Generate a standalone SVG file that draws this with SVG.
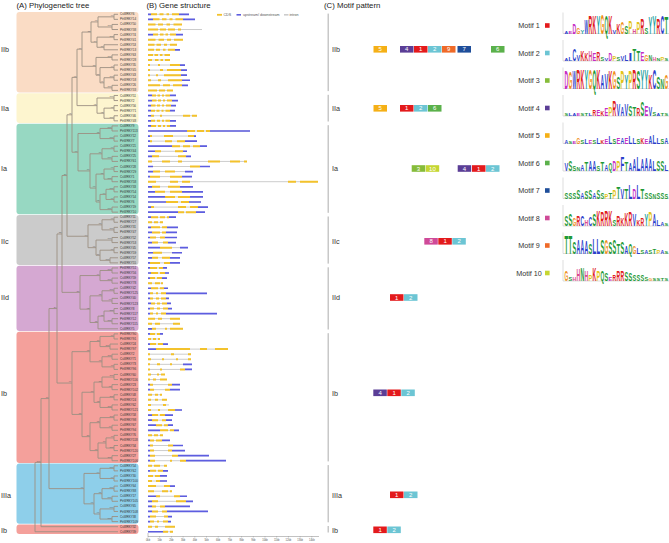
<svg xmlns="http://www.w3.org/2000/svg" width="669" height="543" viewBox="0 0 669 543">
<style>
text{font-family:"Liberation Sans",Arial,sans-serif}
.title{font-size:7.8px;fill:#222}
.cl{font-size:7.2px;fill:#333}
.gn{font-size:3px;fill:#333}
.bs{font-size:2.4px;fill:#666;text-anchor:end}
.ax{font-size:2.6px;fill:#555;text-anchor:middle}
.lgd{font-size:3.6px;fill:#555}
.mt{font-size:6px;fill:#fff;text-anchor:middle}
.ml{font-size:7.2px;fill:#333;text-anchor:middle}
.L text{font-weight:bold}
.b{fill:#2b3fcc}.g{fill:#1f9a36}.m{fill:#c52dc5}.r{fill:#e0201b}.o{fill:#f0901a}.y{fill:#e3c418}.h{fill:#d94a8c}.c{fill:#22a0a0}
.lax{fill:none;stroke:#aaa;stroke-width:0.4}
</style>
<defs/>
<g id="titles">
<text class="title" x="16.5" y="7.5">(A) Phylogenetic tree</text>
<text class="title" x="146.5" y="7.5">(B) Gene structure</text>
<text class="title" x="324" y="7.5">(C) Motif pattern</text>
</g>
<g id="clade-boxes">
<rect x="16.5" y="12.1" width="122" height="80.5" rx="3" fill="#fadcc5"/>
<rect x="16.5" y="93.3" width="122" height="29.7" rx="3" fill="#fdf5cf"/>
<rect x="16.5" y="123.7" width="122" height="90.6" rx="3" fill="#97d8c2"/>
<rect x="16.5" y="215" width="122" height="50.1" rx="3" fill="#cbcbcb"/>
<rect x="16.5" y="265.8" width="122" height="65.2" rx="3" fill="#d5a8d2"/>
<rect x="16.5" y="331.7" width="122" height="131.2" rx="3" fill="#f4a09b"/>
<rect x="16.5" y="463.6" width="122" height="60.2" rx="3" fill="#8ecfea"/>
<rect x="16.5" y="524.5" width="122" height="9.5" rx="3" fill="#f4a09b"/>
</g>
<g id="clade-labels">
<text class="cl" x="1" y="51.5">IIb</text>
<text class="cl" x="1" y="110.5">IIa</text>
<text class="cl" x="1" y="170.5">Ia</text>
<text class="cl" x="1" y="243.5">IIc</text>
<text class="cl" x="1" y="299.5">IId</text>
<text class="cl" x="1" y="395.5">Ib</text>
<text class="cl" x="1" y="497.5">IIIa</text>
<text class="cl" x="1" y="532.5">Ib</text>
</g>
<g id="connectors" transform="translate(0,14.3) scale(1,5.073)">
<path fill="none" stroke="#9c9082" stroke-width="0.9" vector-effect="non-scaling-stroke" d="M118 0H114V1H118M118 2H112V3H118M114 0.5H98V2.5H112M118 4H114V5H118M118 6H104V7H118M114 4.5H97V6.5H104M98 1.5H91V5.5H97M118 8H112V9H118M118 10H114V11H118M118 12H114V13H118M118 14H112V15H118M114 12.5H104V14.5H112M114 10.5H100V13.5H104M112 8.5H96V12H100M91 3.5H82V10.25H96
M118 16H114V17H118M118 18H114V19H118M118 20H114V21H118M114 18.5H104V20.5H114M114 16.5H97V19.5H104M82 6.875H77V18H97
M118 22H112V23H118M118 24H114V25H118M112 22.5H100V24.5H114M118 26H114V27H118M118 28H112V29H118M118 30H114V31H118M118 32H112V33H118M118 34H114V35H118M118 36H114V37H118M118 38H112V39H118M114 26.5H102V28.5H112M114 30.5H104V32.5H112M114 34.5H106V36.5H114M106 35.5H100V38.5H112M104 31.5H96V37H100M102 27.5H90V34.25H96M100 23.5H78V30.875H90M77 12.4375H72V27.1875H78
M118 40H114V41H118M118 42H114V43H118M114 40.5H102V42.5H114M118 44H112V45H118M118 46H114V47H118M118 48H110V49H118M114 46.5H100V48.5H110M112 44.5H96V47.5H100M102 41.5H88V46H96M72 19.8125H67V43.75H88
M118 50H112V51H118M118 52H112V53H118M112 50.5H100V52.5H112M118 54H114V55H118M118 56H112V57H118M114 54.5H102V56.5H112M118 58H114V59H118M118 60H112V61H118M114 58.5H104V60.5H112M104 59.5H98V62H118M102 55.5H90V60.75H98M100 51.5H80V58.125H90M67 31.78H62V54.8125H80
M118 63H114V64H118M118 65H110V66H118M114 63.5H100V65.5H110M118 67H112V68H118M118 69H114V70H118M112 67.5H102V69.5H114M100 64.5H90V68.5H102M118 71H114V72H118M118 73H112V74H118M114 71.5H102V73.5H112M118 75H114V76H118M118 77H112V78H118M114 75.5H100V77.5H112M102 72.5H94V76.5H100M118 79H114V80H118M118 81H112V82H118M114 79.5H100V81.5H112M118 83H114V84H118M118 85H114V86H118M114 83.5H106V85.5H114M118 87H112V88H118M106 84.5H98V87.5H112M100 80.5H90V86H98M94 74.5H82V83.25H90M90 66.5H72V78.875H82M62 43.3H57V72.6875H72
M118 89H114V90H118M118 91H114V92H118M114 89.5H100V91.5H114M118 93H114V94H118M118 95H112V96H118M114 93.5H102V95.5H112M118 97H114V98H118M118 99H112V100H118M114 97.5H100V99.5H112M102 94.5H94V98.5H100M100 90.5H84V96.5H94M57 58H49V93.5H84M49 75.75H41V101H118M41 88.375H35V102H118"/>
</g>
<g id="bootstrap">
<text class="bs" x="113.4" y="16.2">99</text><text class="bs" x="111.4" y="26.4">100</text><text class="bs" x="97.4" y="21.3">98</text><text class="bs" x="113.4" y="36.5">100</text><text class="bs" x="103.4" y="46.7">87</text><text class="bs" x="96.4" y="41.6">64</text><text class="bs" x="90.4" y="31.5">53</text><text class="bs" x="111.4" y="56.8">100</text><text class="bs" x="113.4" y="67">99</text><text class="bs" x="113.4" y="77.1">100</text><text class="bs" x="111.4" y="87.3">100</text><text class="bs" x="103.4" y="82.2">91</text><text class="bs" x="99.4" y="74.6">76</text><text class="bs" x="95.4" y="65.7">88</text><text class="bs" x="81.4" y="48.6">99</text>
<text class="bs" x="113.4" y="97.4">100</text><text class="bs" x="113.4" y="107.5">98</text><text class="bs" x="113.4" y="117.7">100</text><text class="bs" x="103.4" y="112.6">92</text><text class="bs" x="96.4" y="105">95</text><text class="bs" x="76.4" y="76.8">97</text>
<text class="bs" x="111.4" y="127.8">100</text><text class="bs" x="113.4" y="138">100</text><text class="bs" x="99.4" y="132.9">73</text><text class="bs" x="113.4" y="148.1">99</text><text class="bs" x="111.4" y="158.3">100</text><text class="bs" x="113.4" y="168.4">97</text><text class="bs" x="111.4" y="178.6">100</text><text class="bs" x="113.4" y="188.7">100</text><text class="bs" x="113.4" y="198.9">99</text><text class="bs" x="111.4" y="209">100</text><text class="bs" x="101.4" y="153.2">86</text><text class="bs" x="103.4" y="173.5">61</text><text class="bs" x="105.4" y="193.8">94</text><text class="bs" x="99.4" y="201.4">82</text><text class="bs" x="95.4" y="187.4">98</text><text class="bs" x="89.4" y="170.3">70</text><text class="bs" x="77.4" y="151.6">99</text><text class="bs" x="71.4" y="114.2">45</text>
<text class="bs" x="113.4" y="219.2">97</text><text class="bs" x="113.4" y="229.3">100</text><text class="bs" x="101.4" y="224.2">88</text><text class="bs" x="111.4" y="239.4">100</text><text class="bs" x="113.4" y="249.6">99</text><text class="bs" x="109.4" y="259.7">100</text><text class="bs" x="99.4" y="254.7">79</text><text class="bs" x="95.4" y="247.1">96</text><text class="bs" x="87.4" y="235.6">94</text><text class="bs" x="66.4" y="174.9">38</text>
<text class="bs" x="111.4" y="269.9">100</text><text class="bs" x="111.4" y="280">100</text><text class="bs" x="99.4" y="275">99</text><text class="bs" x="113.4" y="290.2">100</text><text class="bs" x="111.4" y="300.3">99</text><text class="bs" x="101.4" y="295.3">83</text><text class="bs" x="113.4" y="310.5">100</text><text class="bs" x="111.4" y="320.6">100</text><text class="bs" x="103.4" y="315.6">97</text><text class="bs" x="97.4" y="321.9">75</text><text class="bs" x="89.4" y="308.6">92</text><text class="bs" x="79.4" y="291.8">56</text><text class="bs" x="61.4" y="233.3">32</text>
<text class="bs" x="113.4" y="335.8">99</text><text class="bs" x="109.4" y="346">100</text><text class="bs" x="99.4" y="340.9">71</text><text class="bs" x="111.4" y="356.1">100</text><text class="bs" x="113.4" y="366.3">98</text><text class="bs" x="101.4" y="361.2">90</text><text class="bs" x="89.4" y="351.1">62</text><text class="bs" x="113.4" y="376.4">100</text><text class="bs" x="111.4" y="386.6">97</text><text class="bs" x="101.4" y="381.5">88</text><text class="bs" x="113.4" y="396.7">100</text><text class="bs" x="111.4" y="406.9">100</text><text class="bs" x="99.4" y="401.8">93</text><text class="bs" x="93.4" y="391.6">67</text><text class="bs" x="113.4" y="417">100</text><text class="bs" x="111.4" y="427.2">99</text><text class="bs" x="99.4" y="422.1">85</text><text class="bs" x="113.4" y="437.3">96</text><text class="bs" x="113.4" y="447.5">100</text><text class="bs" x="105.4" y="442.4">78</text><text class="bs" x="111.4" y="457.6">100</text><text class="bs" x="97.4" y="450">91</text><text class="bs" x="89.4" y="436">57</text><text class="bs" x="81.4" y="413.8">87</text><text class="bs" x="71.4" y="382.4">99</text><text class="bs" x="56.4" y="307.9">24</text>
<text class="bs" x="113.4" y="467.7">100</text><text class="bs" x="113.4" y="477.9">99</text><text class="bs" x="99.4" y="472.8">94</text><text class="bs" x="113.4" y="488">100</text><text class="bs" x="111.4" y="498.2">100</text><text class="bs" x="101.4" y="493.1">81</text><text class="bs" x="113.4" y="508.3">100</text><text class="bs" x="111.4" y="518.5">100</text><text class="bs" x="99.4" y="513.4">96</text><text class="bs" x="93.4" y="503.2">90</text><text class="bs" x="83.4" y="488">99</text><text class="bs" x="48.4" y="398">71</text><text class="bs" x="40.4" y="462">100</text>
</g>
<g id="leaves">
<g id="CsWRKY6"><text class="gn" x="120" y="15.3">CsWRKY6</text></g>
<g id="PtrWRKY14"><text class="gn" x="120" y="20.4">PtrWRKY14</text></g>
<g id="CsWRKY50"><text class="gn" x="120" y="25.4">CsWRKY50</text></g>
<g id="PtrWRKY38"><text class="gn" x="120" y="30.5">PtrWRKY38</text></g>
<g id="CsWRKY74"><text class="gn" x="120" y="35.6">CsWRKY74</text></g>
<g id="PtrWRKY41"><text class="gn" x="120" y="40.7">PtrWRKY41</text></g>
<g id="CsWRKY53"><text class="gn" x="120" y="45.7">CsWRKY53</text></g>
<g id="PtrWRKY13"><text class="gn" x="120" y="50.8">PtrWRKY13</text></g>
<g id="CsWRKY63"><text class="gn" x="120" y="55.9">CsWRKY63</text></g>
<g id="PtrWRKY28"><text class="gn" x="120" y="61">PtrWRKY28</text></g>
<g id="CsWRKY35"><text class="gn" x="120" y="66">CsWRKY35</text></g>
<g id="PtrWRKY45"><text class="gn" x="120" y="71.1">PtrWRKY45</text></g>
<g id="CsWRKY43"><text class="gn" x="120" y="76.2">CsWRKY43</text></g>
<g id="PtrWRKY18"><text class="gn" x="120" y="81.2">PtrWRKY18</text></g>
<g id="CsWRKY26"><text class="gn" x="120" y="86.3">CsWRKY26</text></g>
<g id="PtrWRKY33"><text class="gn" x="120" y="91.4">PtrWRKY33</text></g>
<g id="CsWRKY51"><text class="gn" x="120" y="96.5">CsWRKY51</text></g>
<g id="PtrWRKY2"><text class="gn" x="120" y="101.5">PtrWRKY2</text></g>
<g id="CsWRKY56"><text class="gn" x="120" y="106.6">CsWRKY56</text></g>
<g id="PtrWRKY71"><text class="gn" x="120" y="111.7">PtrWRKY71</text></g>
<g id="CsWRKY46"><text class="gn" x="120" y="116.8">CsWRKY46</text></g>
<g id="PtrWRKY48"><text class="gn" x="120" y="121.8">PtrWRKY48</text></g>
<g id="CsWRKY9"><text class="gn" x="120" y="126.9">CsWRKY9</text></g>
<g id="PtrWRKY113"><text class="gn" x="120" y="132">PtrWRKY113</text></g>
<g id="CsWRKY12"><text class="gn" x="120" y="137.1">CsWRKY12</text></g>
<g id="PtrWRKY7"><text class="gn" x="120" y="142.1">PtrWRKY7</text></g>
<g id="CsWRKY21"><text class="gn" x="120" y="147.2">CsWRKY21</text></g>
<g id="PtrWRKY44"><text class="gn" x="120" y="152.3">PtrWRKY44</text></g>
<g id="CsWRKY25"><text class="gn" x="120" y="157.3">CsWRKY25</text></g>
<g id="PtrWRKY61"><text class="gn" x="120" y="162.4">PtrWRKY61</text></g>
<g id="CsWRKY28"><text class="gn" x="120" y="167.5">CsWRKY28</text></g>
<g id="PtrWRKY29"><text class="gn" x="120" y="172.6">PtrWRKY29</text></g>
<g id="CsWRKY1"><text class="gn" x="120" y="177.6">CsWRKY1</text></g>
<g id="PtrWRKY58"><text class="gn" x="120" y="182.7">PtrWRKY58</text></g>
<g id="CsWRKY33"><text class="gn" x="120" y="187.8">CsWRKY33</text></g>
<g id="PtrWRKY54"><text class="gn" x="120" y="192.9">PtrWRKY54</text></g>
<g id="CsWRKY14"><text class="gn" x="120" y="197.9">CsWRKY14</text></g>
<g id="PtrWRKY6"><text class="gn" x="120" y="203">PtrWRKY6</text></g>
<g id="CsWRKY19"><text class="gn" x="120" y="208.1">CsWRKY19</text></g>
<g id="PtrWRKY10"><text class="gn" x="120" y="213.1">PtrWRKY10</text></g>
<g id="CsWRKY11"><text class="gn" x="120" y="218.2">CsWRKY11</text></g>
<g id="PtrWRKY27"><text class="gn" x="120" y="223.3">PtrWRKY27</text></g>
<g id="CsWRKY31"><text class="gn" x="120" y="228.4">CsWRKY31</text></g>
<g id="PtrWRKY47"><text class="gn" x="120" y="233.4">PtrWRKY47</text></g>
<g id="CsWRKY52"><text class="gn" x="120" y="238.5">CsWRKY52</text></g>
<g id="PtrWRKY53"><text class="gn" x="120" y="243.6">PtrWRKY53</text></g>
<g id="CsWRKY45"><text class="gn" x="120" y="248.7">CsWRKY45</text></g>
<g id="PtrWRKY59"><text class="gn" x="120" y="253.7">PtrWRKY59</text></g>
<g id="CsWRKY57"><text class="gn" x="120" y="258.8">CsWRKY57</text></g>
<g id="PtrWRKY55"><text class="gn" x="120" y="263.9">PtrWRKY55</text></g>
<g id="PtrWRKY51"><text class="gn" x="120" y="269">PtrWRKY51</text></g>
<g id="PtrWRKY56"><text class="gn" x="120" y="274">PtrWRKY56</text></g>
<g id="CsWRKY59"><text class="gn" x="120" y="279.1">CsWRKY59</text></g>
<g id="PtrWRKY78"><text class="gn" x="120" y="284.2">PtrWRKY78</text></g>
<g id="CsWRKY42"><text class="gn" x="120" y="289.2">CsWRKY42</text></g>
<g id="PtrWRKY125"><text class="gn" x="120" y="294.3">PtrWRKY125</text></g>
<g id="CsWRKY40"><text class="gn" x="120" y="299.4">CsWRKY40</text></g>
<g id="PtrWRKY123"><text class="gn" x="120" y="304.5">PtrWRKY123</text></g>
<g id="CsWRKY8"><text class="gn" x="120" y="309.5">CsWRKY8</text></g>
<g id="PtrWRKY117"><text class="gn" x="120" y="314.6">PtrWRKY117</text></g>
<g id="PtrWRKY12"><text class="gn" x="120" y="319.7">PtrWRKY12</text></g>
<g id="PtrWRKY115"><text class="gn" x="120" y="324.8">PtrWRKY115</text></g>
<g id="CsWRKY5"><text class="gn" x="120" y="329.8">CsWRKY5</text></g>
<g id="PtrWRKY90"><text class="gn" x="120" y="334.9">PtrWRKY90</text></g>
<g id="PtrWRKY91"><text class="gn" x="120" y="340">PtrWRKY91</text></g>
<g id="CsWRKY24"><text class="gn" x="120" y="345">CsWRKY24</text></g>
<g id="PtrWRKY97"><text class="gn" x="120" y="350.1">PtrWRKY97</text></g>
<g id="CsWRKY2"><text class="gn" x="120" y="355.2">CsWRKY2</text></g>
<g id="CsWRKY71"><text class="gn" x="120" y="360.3">CsWRKY71</text></g>
<g id="CsWRKY73"><text class="gn" x="120" y="365.3">CsWRKY73</text></g>
<g id="PtrWRKY96"><text class="gn" x="120" y="370.4">PtrWRKY96</text></g>
<g id="CsWRKY60"><text class="gn" x="120" y="375.5">CsWRKY60</text></g>
<g id="PtrWRKY116"><text class="gn" x="120" y="380.6">PtrWRKY116</text></g>
<g id="CsWRKY23"><text class="gn" x="120" y="385.6">CsWRKY23</text></g>
<g id="PtrWRKY102"><text class="gn" x="120" y="390.7">PtrWRKY102</text></g>
<g id="CsWRKY48"><text class="gn" x="120" y="395.8">CsWRKY48</text></g>
<g id="PtrWRKY24"><text class="gn" x="120" y="400.9">PtrWRKY24</text></g>
<g id="CsWRKY62"><text class="gn" x="120" y="405.9">CsWRKY62</text></g>
<g id="PtrWRKY121"><text class="gn" x="120" y="411">PtrWRKY121</text></g>
<g id="CsWRKY58"><text class="gn" x="120" y="416.1">CsWRKY58</text></g>
<g id="PtrWRKY98"><text class="gn" x="120" y="421.1">PtrWRKY98</text></g>
<g id="CsWRKY67"><text class="gn" x="120" y="426.2">CsWRKY67</text></g>
<g id="PtrWRKY94"><text class="gn" x="120" y="431.3">PtrWRKY94</text></g>
<g id="CsWRKY76"><text class="gn" x="120" y="436.4">CsWRKY76</text></g>
<g id="PtrWRKY118"><text class="gn" x="120" y="441.4">PtrWRKY118</text></g>
<g id="CsWRKY34"><text class="gn" x="120" y="446.5">CsWRKY34</text></g>
<g id="PtrWRKY120"><text class="gn" x="120" y="451.6">PtrWRKY120</text></g>
<g id="CsWRKY27"><text class="gn" x="120" y="456.7">CsWRKY27</text></g>
<g id="PtrWRKY106"><text class="gn" x="120" y="461.7">PtrWRKY106</text></g>
<g id="CsWRKY54"><text class="gn" x="120" y="466.8">CsWRKY54</text></g>
<g id="PtrWRKY62"><text class="gn" x="120" y="471.9">PtrWRKY62</text></g>
<g id="CsWRKY30"><text class="gn" x="120" y="477">CsWRKY30</text></g>
<g id="PtrWRKY100"><text class="gn" x="120" y="482">PtrWRKY100</text></g>
<g id="CsWRKY64"><text class="gn" x="120" y="487.1">CsWRKY64</text></g>
<g id="PtrWRKY88"><text class="gn" x="120" y="492.2">PtrWRKY88</text></g>
<g id="CsWRKY17"><text class="gn" x="120" y="497.2">CsWRKY17</text></g>
<g id="PtrWRKY105"><text class="gn" x="120" y="502.3">PtrWRKY105</text></g>
<g id="CsWRKY65"><text class="gn" x="120" y="507.4">CsWRKY65</text></g>
<g id="PtrWRKY108"><text class="gn" x="120" y="512.5">PtrWRKY108</text></g>
<g id="CsWRKY38"><text class="gn" x="120" y="517.5">CsWRKY38</text></g>
<g id="PtrWRKY109"><text class="gn" x="120" y="522.6">PtrWRKY109</text></g>
<g id="CsWRKY32"><text class="gn" x="120" y="527.7">CsWRKY32</text></g>
<g id="CsWRKY39"><text class="gn" x="120" y="532.8">CsWRKY39</text></g>
</g>
<g id="gene-structure">
<g transform="translate(0,14.3) scale(1,5.073)" fill="none">
<path stroke="#cccccc" stroke-width="1" vector-effect="non-scaling-stroke" d="M148 0H189M148 1H195M148 2H182M148 3H202M148 4H183M148 5H183M148 6H177M148 7H180M148 8H170M148 9H170M148 10H185M148 11H187M148 12H187M148 13H190M148 14H188M148 15H173M148 16H176M148 17H178M148 18H176M148 19H175M148 20H197M148 21H176M148 22H176M148 23H250M148 24H196M148 25H197M148 26H207M148 27H187M148 28H191M148 29H247M148 30H210M148 31H193M148 32H192M148 33H318M148 34H193M148 35H203M148 36H203M148 37H201M148 38H208M148 39H205M148 40H176M148 41H163M148 42H178M148 43H177M148 44H177M148 45H176M148 46H188M148 47H182M148 48H180M148 49H180M148 50H167M148 51H169M148 52H167M148 53H163M148 54H168M148 55H207M148 56H169M148 57H171M148 58H172M148 59H217M148 60H180M148 61H180M148 62H183M148 63H163M148 64H160M148 65H168M148 66H228M148 67H191M148 68H191M148 69H192M148 70H192M148 71H165M148 72H167M148 73H180M148 74H180M148 75H162M148 76H167M148 77H169M148 78H182M148 79H173M148 80H172M148 81H173M148 82H179M148 83H163M148 84H170M148 85H183M148 86H185M148 87H209M148 88H226M148 89H167M148 90H168M148 91H167M148 92H167M148 93H175M148 94H172M148 95H187M148 96H193M148 97H190M148 98H208M148 99H172M148 100H171M148 101H175M148 102H173"/>
<path stroke="#5d5de0" stroke-width="1.7" vector-effect="non-scaling-stroke" d="M148 0H151M179 0H189M148 1H153M183 1H195M148 4H153M176 4H183M175 7H180M180 10H185M181 11H187M181 12H187M182 13H190M182 14H188M148 16H152M170 16H176M148 17H152M172 17H178M148 18H151M171 18H176M148 19H151M170 19H175M148 20H151M148 21H151M170 21H176M148 22H151M170 22H176M148 23H187M210 23H250M148 24H150M194 24H196M148 25H150M185 25H197M148 26H172M200 26H207M148 27H155M183 27H187M148 28H152M186 28H191M148 30H153M200 30H210M148 31H153M185 31H193M148 32H150M182 32H192M148 34H152M180 34H193M148 35H155M182 35H203M148 36H165M190 36H203M148 37H166M189 37H201M148 38H151M198 38H208M148 39H178M196 39H205M148 40H151M169 40H176M148 42H151M167 42H178M148 43H152M166 43H177M148 44H150M165 44H177M148 45H152M168 45H176M148 46H160M180 46H188M148 47H153M172 47H182M148 48H152M170 48H180M148 49H150M170 49H180M148 50H150M163 50H167M148 51H151M165 51H169M148 52H150M162 52H167M148 54H151M164 54H168M148 55H150M166 55H207M148 56H150M166 56H169M148 57H151M167 57H171M148 58H150M168 58H172M148 59H150M166 59H217M148 62H152M148 63H150M160 63H163M148 65H150M163 65H168M148 66H156M183 69H192M185 70H192M148 73H150M172 73H180M148 74H150M170 74H180M175 78H182M148 79H152M165 79H173M148 80H152M166 80H172M148 81H156M168 81H173M148 82H160M174 82H179M148 84H150M162 84H170M148 85H150M173 85H183M148 86H150M172 86H185M148 87H150M178 87H209M148 88H150M186 88H226M148 90H150M163 90H168M160 91H167M160 92H167M170 93H175M148 95H156M180 95H187M148 96H152M186 96H193M148 97H152M165 97H190M148 98H152M167 98H208M148 99H150M168 99H172M148 100H150M168 100H171M148 102H163"/>
<path stroke="#f3c22c" stroke-width="2" vector-effect="non-scaling-stroke" d="M151 0H157M159.5 0H163.5M166.5 0H169M172 0H179M153 1H159.5M162 1H166.5M169.5 1H172.5M175.5 1H183M148 2H155.5M158 2H163M166.5 2H170M173.5 2H182M148 3H158M160 3H166M168 3H175M178 3H181M153 4H158M160 4H163.5M165.5 4H168M170 4H176M148 5H155.5M158.5 5H164M167 5H171M174 5H183M148 6H154.5M156.5 6H161M164 6H167M170 6H177M148 7H154M156 7H160M163 7H165.5M168 7H175M148 8H153M154.5 8H158M160 8H162.5M164.5 8H170M148 9H152M155 9H158.5M160.5 9H163M165 9H170M148 10H150M158 10H160M170 10H180M148 11H150M160 11H163M167 11H181M148 12H150M156 12H158M164 12H181M148 13H151M158 13H161M168 13H182M148 14H160M163 14H170M173 14H182M148 15H157M159 15H165M167 15H173M152 16H156M157.5 16H160M162 16H164M165.5 16H170M152 17H156.5M158 17H161M163 17H165M167 17H172M151 18H155.5M157 18H160M162 18H164M166 18H171M151 19H155M156.5 19H159.5M161.5 19H163.5M165.5 19H170M151 20H154M160 20H162M183 20H190M192 20H197M151 21H155M157 21H160M162 21H164M165.5 21H170M151 22H156M158 22H161M163 22H165M167 22H170M187 23H195M197 23H204M206 23H210M150 24H152M164 24H173M188 24H194M150 25H152M165 25H172M177 25H185M172 26H180M183 26H190M193 26H200M155 27H161M175 27H183M152 28H159M178 28H186M148 29H152M162 29H170M178 29H182M208 29H220M230 29H240M244 29H247M190 30H200M153 31H160M165 31H175M150 32H160M170 32H182M148 33H156M170 33H178M182 33H190M288 33H296M300 33H318M152 34H160M168 34H180M155 35H165M170 35H182M165 36H175M178 36H190M166 37H178M181 37H189M151 38H154M178 38H186M190 38H198M178 39H184M186 39H196M151 40H158M160 40H165M167 40H169M148 41H152M154 41H158M160 41H163M151 42H160M162 42H167M152 43H160M162 43H166M150 44H156M160 44H165M152 45H158M163 45H168M160 46H172M153 47H162M152 48H158M162 48H170M150 49H160M164 49H170M150 50H157M159 50H163M151 51H158M160 51H165M150 52H155M157 52H162M148 53H152M155 53H160M161 53H163M151 54H158M160 54H164M150 55H153M156 55H158M161 55H166M150 56H153M156 56H159M161 56H166M151 57H155M157 57H160M162 57H167M150 58H154M157 58H160M163 58H168M150 59H153M156 59H158M161 59H166M148 60H155M158 60H162M170 60H180M148 61H152M155 61H160M173 61H180M152 62H156M165 62H167M170 62H183M150 63H155M157 63H160M148 64H151M153 64H156M158 64H160M150 65H156M158 65H163M156 66H190M200 66H207M215 66H228M148 67H150M171 67H174M188 67H191M148 68H151M162 68H164M176 68H178M188 68H191M148 69H150M157 69H160M170 69H172M148 70H150M160 70H162M180 70H185M148 71H151M157 71H159M161 71H165M148 72H150M153 72H156M160 72H167M150 73H153M168 73H172M150 74H154M165 74H170M148 75H152M155 75H158M160 75H162M148 76H151M155 76H158M162 76H167M148 77H151M163 77H166M148 78H151M158 78H160M168 78H175M152 79H158M160 79H165M152 80H158M162 80H166M156 81H162M164 81H168M160 82H168M170 82H174M148 83H152M154 83H158M160 83H163M150 84H154M156 84H162M150 85H153M168 85H173M150 86H154M168 86H172M150 87H155M172 87H178M150 88H155M170 88H172M180 88H186M148 89H152M154 89H160M164 89H167M150 90H156M158 90H163M148 91H153M155 91H160M148 92H152M156 92H160M148 93H156M164 93H170M148 94H154M162 94H168M170 94H172M156 95H160M174 95H180M152 96H158M176 96H186M152 97H156M160 97H165M152 98H158M162 98H167M150 99H156M164 99H168M150 100H154M157 100H159M163 100H168M148 101H152M155 101H158M165 101H175M163 102H168M170 102H173"/>
</g>
<g id="gs-legend">
<path d="M217 14.8H222" stroke="#f3c22c" stroke-width="1.8"/>
<text class="lgd" x="223.5" y="16.1">CDS</text>
<path d="M236.5 14.8H241" stroke="#5d5de0" stroke-width="1.6"/>
<text class="lgd" x="243" y="16.1">upstream/ downstream</text>
<path d="M284 14.8H288.5" stroke="#cccccc" stroke-width="1.6"/>
<text class="lgd" x="289.5" y="16.1">intron</text>
</g>
<g id="gs-axis">
<path fill="none" stroke="#666" stroke-width="0.4" d="M148 533V536.5H319M148 536.5v1M159.7 536.5v1M171.4 536.5v1M183.1 536.5v1M194.8 536.5v1M206.5 536.5v1M218.2 536.5v1M229.9 536.5v1M241.6 536.5v1M253.3 536.5v1M265 536.5v1M276.7 536.5v1M288.4 536.5v1M300.1 536.5v1M311.8 536.5v1"/>
<text class="ax" x="148" y="541">0kb</text><text class="ax" x="159.7" y="541">1kb</text><text class="ax" x="171.4" y="541">2kb</text><text class="ax" x="183.1" y="541">3kb</text><text class="ax" x="194.8" y="541">4kb</text><text class="ax" x="206.5" y="541">5kb</text><text class="ax" x="218.2" y="541">6kb</text><text class="ax" x="229.9" y="541">7kb</text><text class="ax" x="241.6" y="541">8kb</text><text class="ax" x="253.3" y="541">9kb</text><text class="ax" x="265" y="541">10kb</text><text class="ax" x="276.7" y="541">11kb</text><text class="ax" x="288.4" y="541">12kb</text><text class="ax" x="300.1" y="541">13kb</text><text class="ax" x="311.8" y="541">14kb</text>
</g>
</g>
<g id="motif-pattern">
<g fill="#c8c8c8">
<rect x="327.5" y="13.6" width="1.5" height="77.5"/>
<rect x="327.5" y="94.8" width="1.5" height="26.7"/>
<rect x="327.5" y="125.2" width="1.5" height="87.6"/>
<rect x="327.5" y="216.5" width="1.5" height="47.1"/>
<rect x="327.5" y="267.3" width="1.5" height="62.2"/>
<rect x="327.5" y="333.2" width="1.5" height="128.2"/>
<rect x="327.5" y="465.1" width="1.5" height="57.2"/>
<rect x="327.5" y="526" width="1.5" height="6.5"/>
</g>
<text class="cl" x="332" y="51.5">IIb</text>
<text class="cl" x="332" y="110.5">IIa</text>
<text class="cl" x="332" y="170.5">Ia</text>
<text class="cl" x="332" y="243.5">IIc</text>
<text class="cl" x="332" y="299.5">IId</text>
<text class="cl" x="332" y="395.5">Ib</text>
<text class="cl" x="332" y="497.5">IIIa</text>
<text class="cl" x="332" y="532.5">Ib</text>
<g id="motifs-IIb">
<rect x="373.5" y="46" width="13.5" height="6.6" fill="#f5b016"/><text class="mt" x="380.25" y="51.3">5</text>
<rect x="400" y="46" width="13.5" height="6.6" fill="#5b3e96"/><text class="mt" x="406.75" y="51.3">4</text>
<rect x="414" y="46" width="13.5" height="6.6" fill="#e31a1c"/><text class="mt" x="420.75" y="51.3">1</text>
<rect x="428" y="46" width="13.5" height="6.6" fill="#6cc5d4"/><text class="mt" x="434.75" y="51.3">2</text>
<rect x="442" y="46" width="13.5" height="6.6" fill="#ef6a28"/><text class="mt" x="448.75" y="51.3">9</text>
<rect x="457.5" y="46" width="13.5" height="6.6" fill="#1f4e9a"/><text class="mt" x="464.25" y="51.3">7</text>
<rect x="491" y="46" width="13.5" height="6.6" fill="#5bb14b"/><text class="mt" x="497.75" y="51.3">6</text>
</g>
<g id="motifs-IIa">
<rect x="373.5" y="105" width="13.5" height="6.6" fill="#f5b016"/><text class="mt" x="380.25" y="110.3">5</text>
<rect x="400" y="105" width="13.5" height="6.6" fill="#e31a1c"/><text class="mt" x="406.75" y="110.3">1</text>
<rect x="414" y="105" width="13.5" height="6.6" fill="#6cc5d4"/><text class="mt" x="420.75" y="110.3">2</text>
<rect x="428" y="105" width="13.5" height="6.6" fill="#5bb14b"/><text class="mt" x="434.75" y="110.3">6</text>
</g>
<g id="motifs-Ia">
<rect x="411.7" y="165.2" width="13.5" height="6.6" fill="#86bc3a"/><text class="mt" x="418.45" y="170.5">3</text>
<rect x="425.7" y="165.2" width="13.5" height="6.6" fill="#c5d632"/><text class="mt" x="432.45" y="170.5">10</text>
<rect x="457.7" y="165.2" width="13.5" height="6.6" fill="#5b3e96"/><text class="mt" x="464.45" y="170.5">4</text>
<rect x="472" y="165.2" width="13.5" height="6.6" fill="#e31a1c"/><text class="mt" x="478.75" y="170.5">1</text>
<rect x="486" y="165.2" width="13.5" height="6.6" fill="#6cc5d4"/><text class="mt" x="492.75" y="170.5">2</text>
</g>
<g id="motifs-IIc">
<rect x="424.3" y="238" width="13.5" height="6.6" fill="#cf4a98"/><text class="mt" x="431.05" y="243.3">8</text>
<rect x="438.3" y="238" width="13.5" height="6.6" fill="#e31a1c"/><text class="mt" x="445.05" y="243.3">1</text>
<rect x="452.3" y="238" width="13.5" height="6.6" fill="#6cc5d4"/><text class="mt" x="459.05" y="243.3">2</text>
</g>
<g id="motifs-IId">
<rect x="390" y="294.2" width="13.5" height="6.6" fill="#e31a1c"/><text class="mt" x="396.75" y="299.5">1</text>
<rect x="404" y="294.2" width="13.5" height="6.6" fill="#6cc5d4"/><text class="mt" x="410.75" y="299.5">2</text>
</g>
<g id="motifs-Ib">
<rect x="373.3" y="389.5" width="13.5" height="6.6" fill="#5b3e96"/><text class="mt" x="380.05" y="394.8">4</text>
<rect x="387.3" y="389.5" width="13.5" height="6.6" fill="#e31a1c"/><text class="mt" x="394.05" y="394.8">1</text>
<rect x="401.3" y="389.5" width="13.5" height="6.6" fill="#6cc5d4"/><text class="mt" x="408.05" y="394.8">2</text>
</g>
<g id="motifs-IIIa">
<rect x="390" y="491.5" width="13.5" height="6.6" fill="#e31a1c"/><text class="mt" x="396.75" y="496.8">1</text>
<rect x="404" y="491.5" width="13.5" height="6.6" fill="#6cc5d4"/><text class="mt" x="410.75" y="496.8">2</text>
</g>
<g id="motifs-Ib2">
<rect x="373.3" y="526.5" width="13.5" height="6.6" fill="#e31a1c"/><text class="mt" x="380.05" y="531.8">1</text>
<rect x="387.3" y="526.5" width="13.5" height="6.6" fill="#6cc5d4"/><text class="mt" x="394.05" y="531.8">2</text>
</g>
</g>
<g id="motif-legend">
<text class="ml" x="529" y="28">Motif 1</text><rect x="545" y="23.2" width="4.6" height="4.6" fill="#e31a1c"/>
<text class="ml" x="529" y="55.5">Motif 2</text><rect x="545" y="50.7" width="4.6" height="4.6" fill="#6cc5d4"/>
<text class="ml" x="529" y="83">Motif 3</text><rect x="545" y="78.2" width="4.6" height="4.6" fill="#86bc3a"/>
<text class="ml" x="529" y="110.5">Motif 4</text><rect x="545" y="105.7" width="4.6" height="4.6" fill="#5b3e96"/>
<text class="ml" x="529" y="138">Motif 5</text><rect x="545" y="133.2" width="4.6" height="4.6" fill="#f5b016"/>
<text class="ml" x="529" y="165.5">Motif 6</text><rect x="545" y="160.7" width="4.6" height="4.6" fill="#5bb14b"/>
<text class="ml" x="529" y="193">Motif 7</text><rect x="545" y="188.2" width="4.6" height="4.6" fill="#1f4e9a"/>
<text class="ml" x="529" y="220.5">Motif 8</text><rect x="545" y="215.7" width="4.6" height="4.6" fill="#cf4a98"/>
<text class="ml" x="529" y="248">Motif 9</text><rect x="545" y="243.2" width="4.6" height="4.6" fill="#ef6a28"/>
<text class="ml" x="529" y="275.5">Motif 10</text><rect x="545" y="270.7" width="4.6" height="4.6" fill="#c5d632"/>
<path class="lax" d="M563 12.5V33.5H669M563 40V61H669M563 67.5V88.5H669M563 95V116H669M563 122.5V143.5H669M563 150V171H669M563 177.5V198.5H669M563 205V226H669M563 232.5V253.5H669M563 260V281H669"/>
</g>
<g id="logos" class="L">
<g transform="translate(-1,33.5)">
<text x="565.5" font-size="4.2" textLength="3.7" lengthAdjust="spacingAndGlyphs" class="b">A</text><text x="569.5" font-size="4.2" textLength="3.7" lengthAdjust="spacingAndGlyphs" class="m">E</text><text x="573.5" font-size="13.9" textLength="3.7" lengthAdjust="spacingAndGlyphs" class="m">D</text><text x="577.5" font-size="8.3" textLength="3.7" lengthAdjust="spacingAndGlyphs" class="o">G</text><text x="581.5" font-size="5.6" textLength="3.7" lengthAdjust="spacingAndGlyphs" class="c">Y</text><text x="585.5" font-size="19.5" textLength="3.7" lengthAdjust="spacingAndGlyphs" class="b">W</text><text x="589.5" font-size="26.4" textLength="3.7" lengthAdjust="spacingAndGlyphs" class="r">R</text><text x="593.5" font-size="26.4" textLength="3.7" lengthAdjust="spacingAndGlyphs" class="r">K</text><text x="597.5" font-size="25" textLength="3.7" lengthAdjust="spacingAndGlyphs" class="c">Y</text><text x="601.5" font-size="27.8" textLength="3.7" lengthAdjust="spacingAndGlyphs" class="o">G</text><text x="605.5" font-size="25" textLength="3.7" lengthAdjust="spacingAndGlyphs" class="g">Q</text><text x="609.5" font-size="25" textLength="3.7" lengthAdjust="spacingAndGlyphs" class="r">K</text><text x="613.5" font-size="5.6" textLength="3.7" lengthAdjust="spacingAndGlyphs" class="b">V</text><text x="617.5" font-size="13.9" textLength="3.7" lengthAdjust="spacingAndGlyphs" class="r">K</text><text x="621.5" font-size="16.7" textLength="3.7" lengthAdjust="spacingAndGlyphs" class="o">G</text><text x="625.5" font-size="11.1" textLength="3.7" lengthAdjust="spacingAndGlyphs" class="g">S</text><text x="629.5" font-size="18.1" textLength="3.7" lengthAdjust="spacingAndGlyphs" class="y">P</text><text x="633.5" font-size="7" textLength="3.7" lengthAdjust="spacingAndGlyphs" class="h">H</text><text x="637.5" font-size="16.7" textLength="3.7" lengthAdjust="spacingAndGlyphs" class="y">P</text><text x="641.5" font-size="22.2" textLength="3.7" lengthAdjust="spacingAndGlyphs" class="r">R</text><text x="645.5" font-size="8.3" textLength="3.7" lengthAdjust="spacingAndGlyphs" class="g">S</text><text x="649.5" font-size="23.6" textLength="3.7" lengthAdjust="spacingAndGlyphs" class="c">Y</text><text x="653.5" font-size="25" textLength="3.7" lengthAdjust="spacingAndGlyphs" class="c">Y</text><text x="657.5" font-size="22.2" textLength="3.7" lengthAdjust="spacingAndGlyphs" class="r">R</text><text x="661.5" font-size="26.4" textLength="3.7" lengthAdjust="spacingAndGlyphs" class="b">C</text><text x="665.5" font-size="23.6" textLength="3.7" lengthAdjust="spacingAndGlyphs" class="g">T</text>
</g>
<g transform="translate(-1,61)">
<text x="565.5" font-size="4.2" textLength="3.7" lengthAdjust="spacingAndGlyphs" class="b">A</text><text x="569.5" font-size="5.6" textLength="3.7" lengthAdjust="spacingAndGlyphs" class="b">L</text><text x="573.5" font-size="16.7" textLength="3.7" lengthAdjust="spacingAndGlyphs" class="b">C</text><text x="577.5" font-size="8.3" textLength="3.7" lengthAdjust="spacingAndGlyphs" class="b">V</text><text x="581.5" font-size="13.9" textLength="3.7" lengthAdjust="spacingAndGlyphs" class="r">K</text><text x="585.5" font-size="11.1" textLength="3.7" lengthAdjust="spacingAndGlyphs" class="r">K</text><text x="589.5" font-size="15.3" textLength="3.7" lengthAdjust="spacingAndGlyphs" class="h">H</text><text x="593.5" font-size="11.1" textLength="3.7" lengthAdjust="spacingAndGlyphs" class="m">E</text><text x="597.5" font-size="12.5" textLength="3.7" lengthAdjust="spacingAndGlyphs" class="r">R</text><text x="601.5" font-size="5.6" textLength="3.7" lengthAdjust="spacingAndGlyphs" class="g">S</text><text x="605.5" font-size="4.2" textLength="3.7" lengthAdjust="spacingAndGlyphs" class="b">V</text><text x="609.5" font-size="11.1" textLength="3.7" lengthAdjust="spacingAndGlyphs" class="m">D</text><text x="613.5" font-size="7" textLength="3.7" lengthAdjust="spacingAndGlyphs" class="y">P</text><text x="617.5" font-size="5.6" textLength="3.7" lengthAdjust="spacingAndGlyphs" class="g">S</text><text x="621.5" font-size="7" textLength="3.7" lengthAdjust="spacingAndGlyphs" class="b">V</text><text x="625.5" font-size="9.7" textLength="3.7" lengthAdjust="spacingAndGlyphs" class="b">L</text><text x="629.5" font-size="11.1" textLength="3.7" lengthAdjust="spacingAndGlyphs" class="b">I</text><text x="633.5" font-size="16.7" textLength="3.7" lengthAdjust="spacingAndGlyphs" class="g">T</text><text x="637.5" font-size="13.9" textLength="3.7" lengthAdjust="spacingAndGlyphs" class="g">T</text><text x="641.5" font-size="12.5" textLength="3.7" lengthAdjust="spacingAndGlyphs" class="m">E</text><text x="645.5" font-size="9.7" textLength="3.7" lengthAdjust="spacingAndGlyphs" class="o">G</text><text x="649.5" font-size="8.3" textLength="3.7" lengthAdjust="spacingAndGlyphs" class="g">N</text><text x="653.5" font-size="5.6" textLength="3.7" lengthAdjust="spacingAndGlyphs" class="h">H</text><text x="657.5" font-size="4.2" textLength="3.7" lengthAdjust="spacingAndGlyphs" class="g">N</text><text x="661.5" font-size="5.6" textLength="3.7" lengthAdjust="spacingAndGlyphs" class="y">P</text><text x="665.5" font-size="4.2" textLength="3.7" lengthAdjust="spacingAndGlyphs" class="g">S</text>
</g>
<g transform="translate(-1,88.5)">
<text x="565.5" font-size="25" textLength="3.7" lengthAdjust="spacingAndGlyphs" class="m">D</text><text x="569.5" font-size="23.6" textLength="3.7" lengthAdjust="spacingAndGlyphs" class="o">G</text><text x="573.5" font-size="26.4" textLength="3.7" lengthAdjust="spacingAndGlyphs" class="b">W</text><text x="577.5" font-size="27.8" textLength="3.7" lengthAdjust="spacingAndGlyphs" class="r">R</text><text x="581.5" font-size="27.8" textLength="3.7" lengthAdjust="spacingAndGlyphs" class="r">K</text><text x="585.5" font-size="27.8" textLength="3.7" lengthAdjust="spacingAndGlyphs" class="c">Y</text><text x="589.5" font-size="27.8" textLength="3.7" lengthAdjust="spacingAndGlyphs" class="o">G</text><text x="593.5" font-size="27.8" textLength="3.7" lengthAdjust="spacingAndGlyphs" class="g">Q</text><text x="597.5" font-size="27.8" textLength="3.7" lengthAdjust="spacingAndGlyphs" class="r">K</text><text x="601.5" font-size="19.5" textLength="3.7" lengthAdjust="spacingAndGlyphs" class="b">A</text><text x="605.5" font-size="22.2" textLength="3.7" lengthAdjust="spacingAndGlyphs" class="b">V</text><text x="609.5" font-size="25" textLength="3.7" lengthAdjust="spacingAndGlyphs" class="r">K</text><text x="613.5" font-size="25" textLength="3.7" lengthAdjust="spacingAndGlyphs" class="o">G</text><text x="617.5" font-size="16.7" textLength="3.7" lengthAdjust="spacingAndGlyphs" class="g">S</text><text x="621.5" font-size="25" textLength="3.7" lengthAdjust="spacingAndGlyphs" class="y">P</text><text x="625.5" font-size="19.5" textLength="3.7" lengthAdjust="spacingAndGlyphs" class="c">Y</text><text x="629.5" font-size="25" textLength="3.7" lengthAdjust="spacingAndGlyphs" class="y">P</text><text x="633.5" font-size="27.8" textLength="3.7" lengthAdjust="spacingAndGlyphs" class="r">R</text><text x="637.5" font-size="26.4" textLength="3.7" lengthAdjust="spacingAndGlyphs" class="g">S</text><text x="641.5" font-size="27.8" textLength="3.7" lengthAdjust="spacingAndGlyphs" class="c">Y</text><text x="645.5" font-size="27.8" textLength="3.7" lengthAdjust="spacingAndGlyphs" class="c">Y</text><text x="649.5" font-size="19.5" textLength="3.7" lengthAdjust="spacingAndGlyphs" class="r">K</text><text x="653.5" font-size="27.8" textLength="3.7" lengthAdjust="spacingAndGlyphs" class="b">C</text><text x="657.5" font-size="16.7" textLength="3.7" lengthAdjust="spacingAndGlyphs" class="g">S</text><text x="661.5" font-size="13.9" textLength="3.7" lengthAdjust="spacingAndGlyphs" class="g">N</text><text x="665.5" font-size="20.9" textLength="3.7" lengthAdjust="spacingAndGlyphs" class="o">G</text>
</g>
<g transform="translate(-1,116)">
<text x="565.5" font-size="2.8" textLength="3.7" lengthAdjust="spacingAndGlyphs" class="g">S</text><text x="569.5" font-size="2.8" textLength="3.7" lengthAdjust="spacingAndGlyphs" class="b">L</text><text x="573.5" font-size="2.8" textLength="3.7" lengthAdjust="spacingAndGlyphs" class="b">A</text><text x="577.5" font-size="2.8" textLength="3.7" lengthAdjust="spacingAndGlyphs" class="m">E</text><text x="581.5" font-size="2.8" textLength="3.7" lengthAdjust="spacingAndGlyphs" class="g">S</text><text x="585.5" font-size="2.8" textLength="3.7" lengthAdjust="spacingAndGlyphs" class="g">T</text><text x="589.5" font-size="2.8" textLength="3.7" lengthAdjust="spacingAndGlyphs" class="b">L</text><text x="593.5" font-size="8.3" textLength="3.7" lengthAdjust="spacingAndGlyphs" class="r">R</text><text x="597.5" font-size="9.7" textLength="3.7" lengthAdjust="spacingAndGlyphs" class="m">E</text><text x="601.5" font-size="7" textLength="3.7" lengthAdjust="spacingAndGlyphs" class="r">K</text><text x="605.5" font-size="11.1" textLength="3.7" lengthAdjust="spacingAndGlyphs" class="m">E</text><text x="609.5" font-size="12.5" textLength="3.7" lengthAdjust="spacingAndGlyphs" class="y">P</text><text x="613.5" font-size="22.2" textLength="3.7" lengthAdjust="spacingAndGlyphs" class="r">R</text><text x="617.5" font-size="16.7" textLength="3.7" lengthAdjust="spacingAndGlyphs" class="b">V</text><text x="621.5" font-size="12.5" textLength="3.7" lengthAdjust="spacingAndGlyphs" class="b">A</text><text x="625.5" font-size="16.7" textLength="3.7" lengthAdjust="spacingAndGlyphs" class="b">V</text><text x="629.5" font-size="13.9" textLength="3.7" lengthAdjust="spacingAndGlyphs" class="g">S</text><text x="633.5" font-size="12.5" textLength="3.7" lengthAdjust="spacingAndGlyphs" class="g">T</text><text x="637.5" font-size="11.1" textLength="3.7" lengthAdjust="spacingAndGlyphs" class="r">R</text><text x="641.5" font-size="19.5" textLength="3.7" lengthAdjust="spacingAndGlyphs" class="g">S</text><text x="645.5" font-size="13.9" textLength="3.7" lengthAdjust="spacingAndGlyphs" class="m">E</text><text x="649.5" font-size="12.5" textLength="3.7" lengthAdjust="spacingAndGlyphs" class="b">V</text><text x="653.5" font-size="5.6" textLength="3.7" lengthAdjust="spacingAndGlyphs" class="g">S</text><text x="657.5" font-size="4.2" textLength="3.7" lengthAdjust="spacingAndGlyphs" class="b">A</text><text x="661.5" font-size="4.2" textLength="3.7" lengthAdjust="spacingAndGlyphs" class="g">T</text><text x="665.5" font-size="4.2" textLength="3.7" lengthAdjust="spacingAndGlyphs" class="g">S</text>
</g>
<g transform="translate(-1,143.5)">
<text x="565.5" font-size="5.6" textLength="3.7" lengthAdjust="spacingAndGlyphs" class="b">A</text><text x="569.5" font-size="4.2" textLength="3.7" lengthAdjust="spacingAndGlyphs" class="g">S</text><text x="573.5" font-size="4.2" textLength="3.7" lengthAdjust="spacingAndGlyphs" class="m">E</text><text x="577.5" font-size="8.3" textLength="3.7" lengthAdjust="spacingAndGlyphs" class="o">G</text><text x="581.5" font-size="5.6" textLength="3.7" lengthAdjust="spacingAndGlyphs" class="g">S</text><text x="585.5" font-size="7" textLength="3.7" lengthAdjust="spacingAndGlyphs" class="b">L</text><text x="589.5" font-size="5.6" textLength="3.7" lengthAdjust="spacingAndGlyphs" class="m">E</text><text x="593.5" font-size="5.6" textLength="3.7" lengthAdjust="spacingAndGlyphs" class="g">S</text><text x="597.5" font-size="8.3" textLength="3.7" lengthAdjust="spacingAndGlyphs" class="b">L</text><text x="601.5" font-size="5.6" textLength="3.7" lengthAdjust="spacingAndGlyphs" class="r">K</text><text x="605.5" font-size="7" textLength="3.7" lengthAdjust="spacingAndGlyphs" class="m">E</text><text x="609.5" font-size="11.1" textLength="3.7" lengthAdjust="spacingAndGlyphs" class="b">L</text><text x="613.5" font-size="7" textLength="3.7" lengthAdjust="spacingAndGlyphs" class="g">S</text><text x="617.5" font-size="8.3" textLength="3.7" lengthAdjust="spacingAndGlyphs" class="m">E</text><text x="621.5" font-size="8.3" textLength="3.7" lengthAdjust="spacingAndGlyphs" class="b">A</text><text x="625.5" font-size="9.7" textLength="3.7" lengthAdjust="spacingAndGlyphs" class="m">E</text><text x="629.5" font-size="11.1" textLength="3.7" lengthAdjust="spacingAndGlyphs" class="b">L</text><text x="633.5" font-size="8.3" textLength="3.7" lengthAdjust="spacingAndGlyphs" class="b">L</text><text x="637.5" font-size="7" textLength="3.7" lengthAdjust="spacingAndGlyphs" class="g">S</text><text x="641.5" font-size="9.7" textLength="3.7" lengthAdjust="spacingAndGlyphs" class="r">K</text><text x="645.5" font-size="7" textLength="3.7" lengthAdjust="spacingAndGlyphs" class="m">E</text><text x="649.5" font-size="11.1" textLength="3.7" lengthAdjust="spacingAndGlyphs" class="b">A</text><text x="653.5" font-size="12.5" textLength="3.7" lengthAdjust="spacingAndGlyphs" class="b">L</text><text x="657.5" font-size="9.7" textLength="3.7" lengthAdjust="spacingAndGlyphs" class="b">L</text><text x="661.5" font-size="7" textLength="3.7" lengthAdjust="spacingAndGlyphs" class="g">S</text><text x="665.5" font-size="8.3" textLength="3.7" lengthAdjust="spacingAndGlyphs" class="b">A</text>
</g>
<g transform="translate(-1,171)">
<text x="565.5" font-size="11.1" textLength="3.7" lengthAdjust="spacingAndGlyphs" class="b">V</text><text x="569.5" font-size="13.9" textLength="3.7" lengthAdjust="spacingAndGlyphs" class="g">S</text><text x="573.5" font-size="7" textLength="3.7" lengthAdjust="spacingAndGlyphs" class="g">S</text><text x="577.5" font-size="5.6" textLength="3.7" lengthAdjust="spacingAndGlyphs" class="g">N</text><text x="581.5" font-size="8.3" textLength="3.7" lengthAdjust="spacingAndGlyphs" class="b">A</text><text x="585.5" font-size="12.5" textLength="3.7" lengthAdjust="spacingAndGlyphs" class="g">T</text><text x="589.5" font-size="13.9" textLength="3.7" lengthAdjust="spacingAndGlyphs" class="b">A</text><text x="593.5" font-size="13.9" textLength="3.7" lengthAdjust="spacingAndGlyphs" class="b">A</text><text x="597.5" font-size="7" textLength="3.7" lengthAdjust="spacingAndGlyphs" class="g">S</text><text x="601.5" font-size="12.5" textLength="3.7" lengthAdjust="spacingAndGlyphs" class="g">T</text><text x="605.5" font-size="8.3" textLength="3.7" lengthAdjust="spacingAndGlyphs" class="b">A</text><text x="609.5" font-size="11.1" textLength="3.7" lengthAdjust="spacingAndGlyphs" class="g">Q</text><text x="613.5" font-size="13.9" textLength="3.7" lengthAdjust="spacingAndGlyphs" class="m">D</text><text x="617.5" font-size="15.3" textLength="3.7" lengthAdjust="spacingAndGlyphs" class="y">P</text><text x="621.5" font-size="20.9" textLength="3.7" lengthAdjust="spacingAndGlyphs" class="b">F</text><text x="625.5" font-size="12.5" textLength="3.7" lengthAdjust="spacingAndGlyphs" class="g">T</text><text x="629.5" font-size="11.1" textLength="3.7" lengthAdjust="spacingAndGlyphs" class="b">A</text><text x="633.5" font-size="16.7" textLength="3.7" lengthAdjust="spacingAndGlyphs" class="b">A</text><text x="637.5" font-size="19.5" textLength="3.7" lengthAdjust="spacingAndGlyphs" class="b">L</text><text x="641.5" font-size="16.7" textLength="3.7" lengthAdjust="spacingAndGlyphs" class="b">A</text><text x="645.5" font-size="18.1" textLength="3.7" lengthAdjust="spacingAndGlyphs" class="b">A</text><text x="649.5" font-size="16.7" textLength="3.7" lengthAdjust="spacingAndGlyphs" class="b">A</text><text x="653.5" font-size="15.3" textLength="3.7" lengthAdjust="spacingAndGlyphs" class="b">L</text><text x="657.5" font-size="13.9" textLength="3.7" lengthAdjust="spacingAndGlyphs" class="g">S</text><text x="661.5" font-size="13.9" textLength="3.7" lengthAdjust="spacingAndGlyphs" class="g">S</text><text x="665.5" font-size="8.3" textLength="3.7" lengthAdjust="spacingAndGlyphs" class="b">L</text>
</g>
<g transform="translate(-1,198.5)">
<text x="565.5" font-size="8.3" textLength="3.7" lengthAdjust="spacingAndGlyphs" class="g">S</text><text x="569.5" font-size="9.7" textLength="3.7" lengthAdjust="spacingAndGlyphs" class="g">S</text><text x="573.5" font-size="8.3" textLength="3.7" lengthAdjust="spacingAndGlyphs" class="g">S</text><text x="577.5" font-size="12.5" textLength="3.7" lengthAdjust="spacingAndGlyphs" class="g">S</text><text x="581.5" font-size="8.3" textLength="3.7" lengthAdjust="spacingAndGlyphs" class="b">A</text><text x="585.5" font-size="11.1" textLength="3.7" lengthAdjust="spacingAndGlyphs" class="g">S</text><text x="589.5" font-size="12.5" textLength="3.7" lengthAdjust="spacingAndGlyphs" class="g">S</text><text x="593.5" font-size="8.3" textLength="3.7" lengthAdjust="spacingAndGlyphs" class="b">A</text><text x="597.5" font-size="12.5" textLength="3.7" lengthAdjust="spacingAndGlyphs" class="g">S</text><text x="601.5" font-size="9.7" textLength="3.7" lengthAdjust="spacingAndGlyphs" class="g">S</text><text x="605.5" font-size="7" textLength="3.7" lengthAdjust="spacingAndGlyphs" class="y">P</text><text x="609.5" font-size="9.7" textLength="3.7" lengthAdjust="spacingAndGlyphs" class="g">T</text><text x="613.5" font-size="12.5" textLength="3.7" lengthAdjust="spacingAndGlyphs" class="y">P</text><text x="617.5" font-size="16.7" textLength="3.7" lengthAdjust="spacingAndGlyphs" class="g">T</text><text x="621.5" font-size="13.9" textLength="3.7" lengthAdjust="spacingAndGlyphs" class="b">V</text><text x="625.5" font-size="15.3" textLength="3.7" lengthAdjust="spacingAndGlyphs" class="g">T</text><text x="629.5" font-size="20.9" textLength="3.7" lengthAdjust="spacingAndGlyphs" class="b">L</text><text x="633.5" font-size="15.3" textLength="3.7" lengthAdjust="spacingAndGlyphs" class="m">D</text><text x="637.5" font-size="19.5" textLength="3.7" lengthAdjust="spacingAndGlyphs" class="b">L</text><text x="641.5" font-size="15.3" textLength="3.7" lengthAdjust="spacingAndGlyphs" class="g">T</text><text x="645.5" font-size="8.3" textLength="3.7" lengthAdjust="spacingAndGlyphs" class="g">S</text><text x="649.5" font-size="9.7" textLength="3.7" lengthAdjust="spacingAndGlyphs" class="g">S</text><text x="653.5" font-size="7" textLength="3.7" lengthAdjust="spacingAndGlyphs" class="g">N</text><text x="657.5" font-size="9.7" textLength="3.7" lengthAdjust="spacingAndGlyphs" class="g">S</text><text x="661.5" font-size="8.3" textLength="3.7" lengthAdjust="spacingAndGlyphs" class="g">S</text><text x="665.5" font-size="7" textLength="3.7" lengthAdjust="spacingAndGlyphs" class="g">S</text>
</g>
<g transform="translate(-1,226)">
<text x="565.5" font-size="13.9" textLength="3.7" lengthAdjust="spacingAndGlyphs" class="g">S</text><text x="569.5" font-size="16.7" textLength="3.7" lengthAdjust="spacingAndGlyphs" class="g">S</text><text x="573.5" font-size="11.1" textLength="3.7" lengthAdjust="spacingAndGlyphs" class="o">G</text><text x="577.5" font-size="13.9" textLength="3.7" lengthAdjust="spacingAndGlyphs" class="r">R</text><text x="581.5" font-size="13.9" textLength="3.7" lengthAdjust="spacingAndGlyphs" class="b">C</text><text x="585.5" font-size="8.3" textLength="3.7" lengthAdjust="spacingAndGlyphs" class="h">H</text><text x="589.5" font-size="12.5" textLength="3.7" lengthAdjust="spacingAndGlyphs" class="b">C</text><text x="593.5" font-size="16.7" textLength="3.7" lengthAdjust="spacingAndGlyphs" class="g">S</text><text x="597.5" font-size="22.2" textLength="3.7" lengthAdjust="spacingAndGlyphs" class="r">K</text><text x="601.5" font-size="20.9" textLength="3.7" lengthAdjust="spacingAndGlyphs" class="r">R</text><text x="605.5" font-size="22.2" textLength="3.7" lengthAdjust="spacingAndGlyphs" class="r">R</text><text x="609.5" font-size="22.2" textLength="3.7" lengthAdjust="spacingAndGlyphs" class="r">K</text><text x="613.5" font-size="8.3" textLength="3.7" lengthAdjust="spacingAndGlyphs" class="g">S</text><text x="617.5" font-size="13.9" textLength="3.7" lengthAdjust="spacingAndGlyphs" class="r">R</text><text x="621.5" font-size="11.1" textLength="3.7" lengthAdjust="spacingAndGlyphs" class="r">K</text><text x="625.5" font-size="18.1" textLength="3.7" lengthAdjust="spacingAndGlyphs" class="r">K</text><text x="629.5" font-size="19.5" textLength="3.7" lengthAdjust="spacingAndGlyphs" class="r">R</text><text x="633.5" font-size="16.7" textLength="3.7" lengthAdjust="spacingAndGlyphs" class="b">V</text><text x="637.5" font-size="8.3" textLength="3.7" lengthAdjust="spacingAndGlyphs" class="r">K</text><text x="641.5" font-size="11.1" textLength="3.7" lengthAdjust="spacingAndGlyphs" class="r">R</text><text x="645.5" font-size="16.7" textLength="3.7" lengthAdjust="spacingAndGlyphs" class="c">Y</text><text x="649.5" font-size="19.5" textLength="3.7" lengthAdjust="spacingAndGlyphs" class="y">P</text><text x="653.5" font-size="16.7" textLength="3.7" lengthAdjust="spacingAndGlyphs" class="b">A</text><text x="657.5" font-size="8.3" textLength="3.7" lengthAdjust="spacingAndGlyphs" class="b">L</text><text x="661.5" font-size="5.6" textLength="3.7" lengthAdjust="spacingAndGlyphs" class="b">A</text><text x="665.5" font-size="4.2" textLength="3.7" lengthAdjust="spacingAndGlyphs" class="g">S</text>
</g>
<g transform="translate(-1,253.5)">
<text x="565.5" font-size="25" textLength="3.7" lengthAdjust="spacingAndGlyphs" class="g">T</text><text x="569.5" font-size="25" textLength="3.7" lengthAdjust="spacingAndGlyphs" class="g">T</text><text x="573.5" font-size="16.7" textLength="3.7" lengthAdjust="spacingAndGlyphs" class="g">S</text><text x="577.5" font-size="20.9" textLength="3.7" lengthAdjust="spacingAndGlyphs" class="b">A</text><text x="581.5" font-size="20.9" textLength="3.7" lengthAdjust="spacingAndGlyphs" class="b">A</text><text x="585.5" font-size="18.1" textLength="3.7" lengthAdjust="spacingAndGlyphs" class="b">A</text><text x="589.5" font-size="13.9" textLength="3.7" lengthAdjust="spacingAndGlyphs" class="g">S</text><text x="593.5" font-size="22.2" textLength="3.7" lengthAdjust="spacingAndGlyphs" class="b">L</text><text x="597.5" font-size="22.2" textLength="3.7" lengthAdjust="spacingAndGlyphs" class="b">L</text><text x="601.5" font-size="19.5" textLength="3.7" lengthAdjust="spacingAndGlyphs" class="g">S</text><text x="605.5" font-size="20.9" textLength="3.7" lengthAdjust="spacingAndGlyphs" class="o">G</text><text x="609.5" font-size="16.7" textLength="3.7" lengthAdjust="spacingAndGlyphs" class="g">S</text><text x="613.5" font-size="19.5" textLength="3.7" lengthAdjust="spacingAndGlyphs" class="g">S</text><text x="617.5" font-size="13.9" textLength="3.7" lengthAdjust="spacingAndGlyphs" class="g">T</text><text x="621.5" font-size="16.7" textLength="3.7" lengthAdjust="spacingAndGlyphs" class="g">S</text><text x="625.5" font-size="11.1" textLength="3.7" lengthAdjust="spacingAndGlyphs" class="b">A</text><text x="629.5" font-size="13.9" textLength="3.7" lengthAdjust="spacingAndGlyphs" class="g">Q</text><text x="633.5" font-size="11.1" textLength="3.7" lengthAdjust="spacingAndGlyphs" class="o">G</text><text x="637.5" font-size="8.3" textLength="3.7" lengthAdjust="spacingAndGlyphs" class="b">L</text><text x="641.5" font-size="5.6" textLength="3.7" lengthAdjust="spacingAndGlyphs" class="g">S</text><text x="645.5" font-size="5.6" textLength="3.7" lengthAdjust="spacingAndGlyphs" class="b">A</text><text x="649.5" font-size="5.6" textLength="3.7" lengthAdjust="spacingAndGlyphs" class="g">S</text><text x="653.5" font-size="7" textLength="3.7" lengthAdjust="spacingAndGlyphs" class="g">T</text><text x="657.5" font-size="5.6" textLength="3.7" lengthAdjust="spacingAndGlyphs" class="y">P</text><text x="661.5" font-size="5.6" textLength="3.7" lengthAdjust="spacingAndGlyphs" class="b">A</text><text x="665.5" font-size="4.2" textLength="3.7" lengthAdjust="spacingAndGlyphs" class="g">S</text>
</g>
<g transform="translate(-1,281)">
<text x="565.5" font-size="13.9" textLength="3.7" lengthAdjust="spacingAndGlyphs" class="o">G</text><text x="569.5" font-size="5.6" textLength="3.7" lengthAdjust="spacingAndGlyphs" class="g">S</text><text x="573.5" font-size="5.6" textLength="3.7" lengthAdjust="spacingAndGlyphs" class="h">H</text><text x="577.5" font-size="16.7" textLength="3.7" lengthAdjust="spacingAndGlyphs" class="h">H</text><text x="581.5" font-size="18.1" textLength="3.7" lengthAdjust="spacingAndGlyphs" class="g">N</text><text x="585.5" font-size="15.3" textLength="3.7" lengthAdjust="spacingAndGlyphs" class="h">H</text><text x="589.5" font-size="9.7" textLength="3.7" lengthAdjust="spacingAndGlyphs" class="y">P</text><text x="593.5" font-size="18.1" textLength="3.7" lengthAdjust="spacingAndGlyphs" class="r">K</text><text x="597.5" font-size="15.3" textLength="3.7" lengthAdjust="spacingAndGlyphs" class="y">P</text><text x="601.5" font-size="13.9" textLength="3.7" lengthAdjust="spacingAndGlyphs" class="g">Q</text><text x="605.5" font-size="11.1" textLength="3.7" lengthAdjust="spacingAndGlyphs" class="g">S</text><text x="609.5" font-size="5.6" textLength="3.7" lengthAdjust="spacingAndGlyphs" class="m">E</text><text x="613.5" font-size="8.3" textLength="3.7" lengthAdjust="spacingAndGlyphs" class="r">R</text><text x="617.5" font-size="13.9" textLength="3.7" lengthAdjust="spacingAndGlyphs" class="r">R</text><text x="621.5" font-size="15.3" textLength="3.7" lengthAdjust="spacingAndGlyphs" class="r">R</text><text x="625.5" font-size="12.5" textLength="3.7" lengthAdjust="spacingAndGlyphs" class="g">S</text><text x="629.5" font-size="11.1" textLength="3.7" lengthAdjust="spacingAndGlyphs" class="g">S</text><text x="633.5" font-size="9.7" textLength="3.7" lengthAdjust="spacingAndGlyphs" class="g">S</text><text x="637.5" font-size="8.3" textLength="3.7" lengthAdjust="spacingAndGlyphs" class="g">S</text><text x="641.5" font-size="8.3" textLength="3.7" lengthAdjust="spacingAndGlyphs" class="g">S</text><text x="645.5" font-size="5.6" textLength="3.7" lengthAdjust="spacingAndGlyphs" class="g">S</text><text x="649.5" font-size="4.2" textLength="3.7" lengthAdjust="spacingAndGlyphs" class="o">G</text><text x="653.5" font-size="4.2" textLength="3.7" lengthAdjust="spacingAndGlyphs" class="g">S</text><text x="657.5" font-size="4.2" textLength="3.7" lengthAdjust="spacingAndGlyphs" class="g">S</text><text x="661.5" font-size="4.2" textLength="3.7" lengthAdjust="spacingAndGlyphs" class="g">T</text><text x="665.5" font-size="4.2" textLength="3.7" lengthAdjust="spacingAndGlyphs" class="g">S</text>
</g>
</g>
</svg>
